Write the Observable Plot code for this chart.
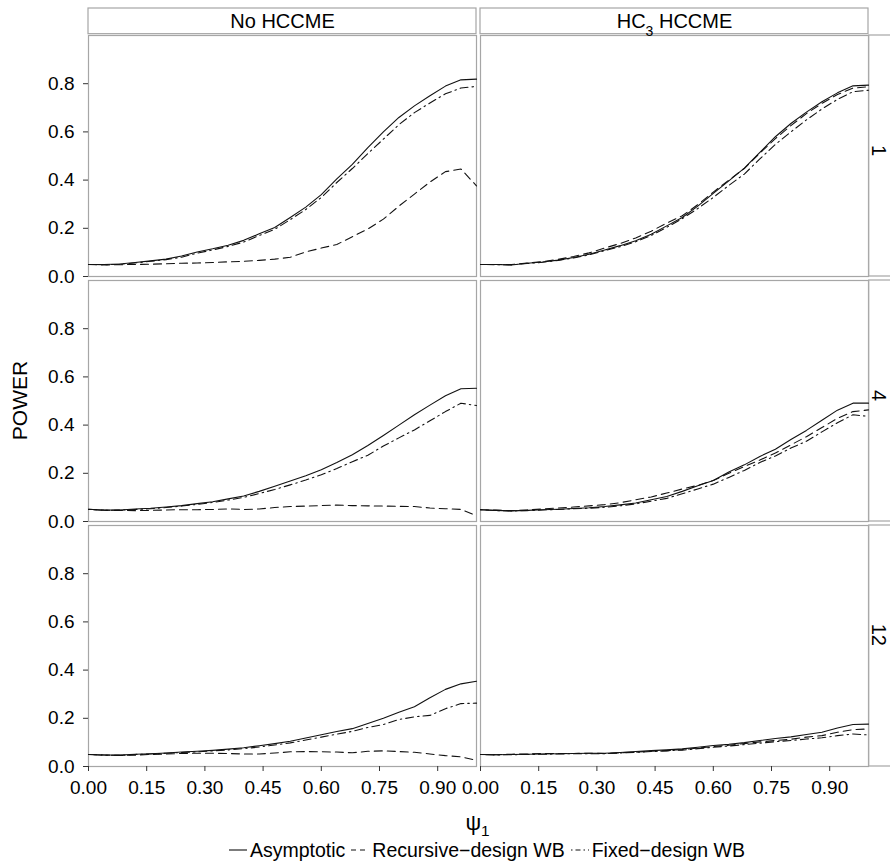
<!DOCTYPE html>
<html><head><meta charset="utf-8">
<script src="https://cdn.jsdelivr.net/npm/d3@7"></script>
<script src="https://cdn.jsdelivr.net/npm/@observablehq/plot@0.6"></script>
<style>
body{margin:0;background:#fff;font-family:"Liberation Sans",Arial,Helvetica,sans-serif;}
#chart svg{overflow:visible;display:block;}
#legend{width:890px;height:30px;display:flex;justify-content:center;align-items:center;font-size:19.5px;color:#000;box-sizing:border-box;padding-left:84px;}
#legend .k{display:inline-flex;align-items:center;margin:0 3px;white-space:nowrap;}
#legend svg{margin-right:3px;}
</style></head>
<body><div id="chart"></div><div id="legend"></div>
<script>
// ---- data ----
const psi = [0.00,0.04,0.08,0.12,0.16,0.20,0.24,0.28,0.32,0.36,0.40,0.44,0.48,0.52,0.56,0.60,0.64,0.68,0.72,0.76,0.80,0.84,0.88,0.92,0.96,1.00];
const hccmeTypes = ["No HCCME", "HC₃ HCCME"];
const lags = ["1", "4", "12"];
const methods = ["Asymptotic", "Recursive−design WB", "Fixed−design WB"];
const xTicks = [0, 0.15, 0.30, 0.45, 0.60, 0.75, 0.90];
const yTicks = [0, 0.2, 0.4, 0.6, 0.8];

// No HCCME, lag 1
const asymNo1 = [.050,.050,.052,.058,.065,.072,.085,.102,.115,.130,.150,.177,.203,.245,.288,.340,.405,.465,.535,.600,.660,.708,.750,.790,.816,.819];
const recNo1  = [.050,.048,.049,.050,.051,.053,.055,.056,.058,.061,.063,.067,.072,.080,.102,.118,.133,.165,.197,.238,.292,.342,.392,.435,.446,.376];
const fixNo1  = [.050,.049,.051,.056,.063,.070,.080,.097,.110,.125,.143,.170,.196,.236,.278,.328,.390,.448,.510,.570,.630,.680,.720,.758,.782,.789];
// HC3 HCCME, lag 1
const asymHc1 = [.050,.050,.048,.055,.060,.068,.079,.092,.110,.128,.148,.175,.210,.245,.292,.345,.397,.450,.515,.580,.635,.682,.725,.762,.791,.794];
const recHc1  = [.050,.050,.050,.056,.062,.071,.083,.098,.118,.137,.160,.188,.222,.252,.298,.350,.400,.448,.512,.572,.626,.676,.718,.755,.782,.787];
const fixHc1  = [.050,.049,.048,.054,.059,.067,.077,.090,.107,.124,.144,.170,.204,.240,.282,.328,.378,.425,.488,.548,.600,.650,.695,.735,.767,.773];
// No HCCME, lag 4
const asymNo4 = [.051,.047,.048,.052,.055,.060,.066,.074,.082,.094,.106,.125,.146,.168,.190,.215,.245,.277,.315,.357,.400,.443,.483,.522,.551,.553];
const recNo4  = [.051,.047,.046,.045,.046,.048,.049,.049,.050,.052,.050,.052,.058,.062,.064,.066,.068,.066,.065,.064,.063,.062,.056,.053,.050,.024];
const fixNo4  = [.050,.046,.047,.050,.053,.058,.064,.071,.079,.089,.100,.116,.133,.152,.172,.194,.220,.248,.275,.313,.347,.380,.418,.456,.491,.481];
// HC3 HCCME, lag 4
const asymHc4 = [.049,.046,.044,.046,.049,.051,.054,.057,.062,.069,.077,.090,.104,.125,.148,.170,.205,.235,.270,.300,.340,.378,.420,.462,.491,.491];
const recHc4  = [.049,.047,.045,.048,.052,.056,.060,.065,.070,.078,.090,.102,.118,.135,.150,.170,.200,.228,.255,.284,.318,.352,.390,.428,.456,.463];
const fixHc4  = [.049,.045,.044,.045,.048,.050,.053,.055,.059,.065,.073,.084,.096,.115,.135,.155,.183,.212,.245,.272,.305,.333,.372,.410,.443,.436];
// No HCCME, lag 12
const asymNo12 = [.050,.048,.047,.051,.053,.056,.060,.063,.067,.072,.078,.086,.095,.105,.118,.132,.145,.157,.178,.200,.225,.248,.285,.320,.343,.354];
const recNo12  = [.050,.048,.046,.047,.050,.052,.054,.055,.055,.054,.052,.052,.056,.061,.062,.061,.060,.057,.063,.065,.062,.059,.052,.045,.040,.026];
const fixNo12  = [.050,.047,.046,.050,.052,.055,.058,.061,.065,.069,.074,.081,.089,.098,.110,.122,.134,.146,.162,.174,.195,.206,.212,.240,.261,.263];
// HC3 HCCME, lag 12
const asymHc12 = [.050,.049,.050,.051,.052,.053,.054,.055,.055,.058,.062,.066,.069,.073,.080,.087,.092,.099,.108,.116,.123,.133,.142,.160,.174,.176];
const recHc12  = [.050,.049,.051,.052,.054,.054,.054,.055,.054,.057,.060,.063,.066,.070,.076,.083,.088,.095,.102,.108,.113,.122,.128,.142,.153,.156];
const fixHc12  = [.050,.048,.049,.050,.051,.052,.053,.053,.053,.056,.059,.062,.065,.068,.074,.080,.085,.091,.097,.103,.108,.114,.119,.128,.135,.131];

const series = [
  [hccmeTypes[0], lags[0], [asymNo1, recNo1, fixNo1]],
  [hccmeTypes[1], lags[0], [asymHc1, recHc1, fixHc1]],
  [hccmeTypes[0], lags[1], [asymNo4, recNo4, fixNo4]],
  [hccmeTypes[1], lags[1], [asymHc4, recHc4, fixHc4]],
  [hccmeTypes[0], lags[2], [asymNo12, recNo12, fixNo12]],
  [hccmeTypes[1], lags[2], [asymHc12, recHc12, fixHc12]]
];
const rows = [];
for (const [h, l, arrs] of series) {
  arrs.forEach((arr, i) => arr.forEach((v, j) => rows.push({hccme: h, lag: l, method: methods[i], psi: psi[j], power: v})));
}

// ---- layout ----
const W = 890, H = 835, mL = 87, mR = 22, mT = 34, mB = 68, gap = 4.5;
const colW = (W - mL - mR - gap) / 2;
const rowH = (H - mT - mB - 2 * gap) / 3;
const dashes = {"Asymptotic": null, "Recursive−design WB": "8,5", "Fixed−design WB": "1.5,4,8,4"};
const border = "#a6a6a6";

const topStrips = hccmeTypes.map(h => ({hccme: h, lag: lags[0]}));
const rightStrips = lags.map(l => ({hccme: hccmeTypes[1], lag: l}));

const chart = Plot.plot({
  width: W, height: H,
  marginLeft: mL, marginRight: mR, marginTop: mT, marginBottom: mB,
  style: {fontFamily: "'Liberation Sans', Arial, Helvetica, sans-serif", fontSize: "19px", color: "#000", background: "#fff"},
  x: {domain: [0, 1]},
  y: {domain: [0, 1]},
  fx: {domain: hccmeTypes, paddingInner: gap / (colW + gap), paddingOuter: 0, axis: null},
  fy: {domain: lags, paddingInner: gap / (rowH + gap), paddingOuter: 0, axis: null},
  marks: [
    Plot.frame({stroke: border, strokeWidth: 1.2}),
    Plot.rect(topStrips, {fx: "hccme", fy: "lag", fill: "#fff", stroke: border, strokeWidth: 1.2, insetTop: -27, insetBottom: rowH + 1}),
    Plot.text(topStrips, {fx: "hccme", fy: "lag", text: "hccme", frameAnchor: "top", lineAnchor: "middle", dy: -13.5, fontSize: 20}),
    Plot.rect(rightStrips, {fx: "hccme", fy: "lag", fill: "#fff", stroke: border, strokeWidth: 1.2, insetLeft: colW + 0.5, insetRight: -(mR + 6)}),
    Plot.text(rightStrips, {fx: "hccme", fy: "lag", text: "lag", frameAnchor: "right", dx: 10, rotate: 90, fontSize: 20}),
    Plot.axisX({ticks: xTicks, tickFormat: d3.format(".2f"), tickSize: 5, tickPadding: 9, label: null, stroke: "#333"}),
    Plot.axisY({ticks: yTicks, tickFormat: d3.format(".1f"), tickSize: 5, tickPadding: 9, label: null, stroke: "#333"}),
    ...methods.map(m => Plot.line(rows.filter(d => d.method === m), {
      x: "psi", y: "power", fx: "hccme", fy: "lag",
      stroke: "#111", strokeWidth: 1.1, strokeDasharray: dashes[m]
    }))
  ]
});
document.getElementById("chart").appendChild(chart);

// subscripts in strip labels
const svg = d3.select(chart);
svg.selectAll("text").each(function() {
  const t = this.textContent;
  if (t.includes("₃")) {
    const [a, b] = t.split("₃");
    const sel = d3.select(this); sel.text(null);
    sel.append("tspan").text(a);
    sel.append("tspan").attr("baseline-shift", "sub").attr("font-size", "70%").text("3");
    sel.append("tspan").text(b);
  }
});
// axis titles
svg.append("text").attr("transform", `translate(19,${(mT + H - mB) / 2}) rotate(-90)`)
  .attr("text-anchor", "middle").attr("dominant-baseline", "central")
  .attr("font-size", 21).attr("fill", "#000").text("POWER");
const xl = svg.append("text").attr("x", (mL + W - mR) / 2).attr("y", 822)
  .attr("text-anchor", "middle").attr("dominant-baseline", "central")
  .attr("font-size", 22).attr("fill", "#000");
xl.append("tspan").text("ψ");
xl.append("tspan").attr("baseline-shift", "sub").attr("font-size", "70%").text("1");

// legend
const leg = d3.select("#legend");
methods.forEach(m => {
  const k = leg.append("span").attr("class", "k");
  const s = k.append("svg").attr("width", 18).attr("height", 10);
  s.append("line").attr("x1", 0).attr("x2", 18).attr("y1", 5).attr("y2", 5)
    .attr("stroke", "#111").attr("stroke-width", 1.1)
    .attr("stroke-dasharray", m === methods[2] ? "1.5,3,5,3" : (m === methods[1] ? "5,4" : null));
  k.append("span").text(m);
});
</script>
</body></html>
